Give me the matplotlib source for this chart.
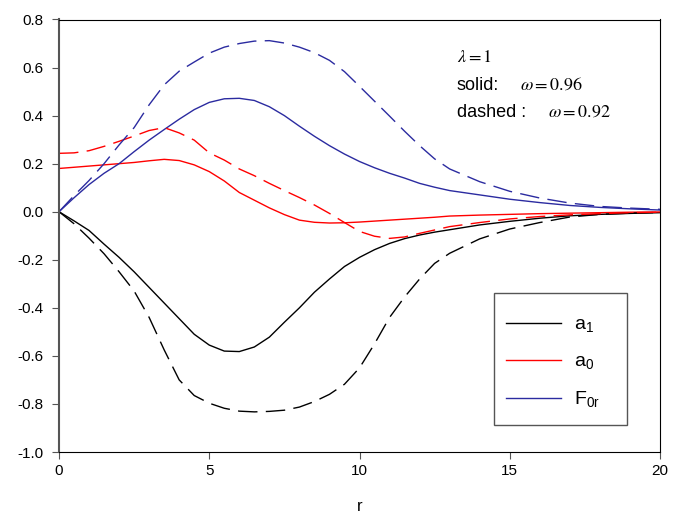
import matplotlib
matplotlib.use("Agg")
import matplotlib.pyplot as plt
from matplotlib.patches import Rectangle

plt.rcParams['font.family'] = ['Liberation Sans', 'DejaVu Sans']

# readings (r, value)
r_vals = [0, 0.5, 1, 1.5, 2, 2.5, 3, 3.5, 4, 4.5, 5, 5.5, 6, 6.5, 7, 7.5, 8, 8.5, 9,
          9.5, 10, 10.5, 11, 11.5, 12, 12.5, 13, 14, 15, 16, 17, 18, 19, 20]

a1_solid = [0, -0.038, -0.078, -0.135, -0.19, -0.25, -0.315, -0.38, -0.445, -0.51, -0.555,
            -0.58, -0.582, -0.563, -0.522, -0.46, -0.40, -0.335, -0.28, -0.228, -0.19,
            -0.158, -0.132, -0.112, -0.097, -0.085, -0.075,
            -0.055, -0.04, -0.027, -0.017, -0.011, -0.007, -0.004]
a1_dash = [0, -0.05, -0.11, -0.175, -0.25, -0.33, -0.44, -0.575, -0.70, -0.765, -0.797,
           -0.818, -0.83, -0.833, -0.831, -0.826, -0.813, -0.79, -0.76, -0.718, -0.65,
           -0.55, -0.44, -0.355, -0.28, -0.215, -0.173,
           -0.113, -0.072, -0.045, -0.022, -0.011, -0.006, -0.003]
a0_solid = [0.18, 0.185, 0.19, 0.195, 0.2, 0.205, 0.212, 0.218, 0.213, 0.195, 0.167,
            0.128, 0.08, 0.048, 0.016, -0.012, -0.035, -0.044, -0.047, -0.046, -0.043,
            -0.039, -0.035, -0.031, -0.027, -0.023, -0.018,
            -0.014, -0.011, -0.008, -0.006, -0.004, -0.002, -0.001]
a0_dash = [0.243, 0.245, 0.254, 0.272, 0.293, 0.315, 0.338, 0.35, 0.328, 0.298, 0.245,
           0.215, 0.178, 0.15, 0.118, 0.088, 0.059, 0.028, -0.007, -0.045, -0.082,
           -0.102, -0.111, -0.105, -0.09, -0.076, -0.062,
           -0.045, -0.03, -0.02, -0.013, -0.008, -0.004, -0.002]
f0r_solid = [0, 0.058, 0.113, 0.16, 0.2, 0.25, 0.298, 0.342, 0.385, 0.425, 0.455,
             0.47, 0.472, 0.463, 0.437, 0.40, 0.356, 0.314, 0.275, 0.24, 0.209,
             0.183, 0.16, 0.14, 0.118, 0.102, 0.088,
             0.07, 0.052, 0.038, 0.026, 0.018, 0.012, 0.007]
f0r_dash = [0, 0.067, 0.13, 0.2, 0.278, 0.35, 0.445, 0.528, 0.585, 0.623, 0.66,
            0.685, 0.70, 0.71, 0.712, 0.702, 0.685, 0.662, 0.63, 0.583, 0.522,
            0.46, 0.398, 0.335, 0.275, 0.22, 0.178,
            0.125, 0.085, 0.057, 0.036, 0.022, 0.015, 0.01]

labels = [r'a$_\mathregular{1}$', r'a$_\mathregular{0}$', r'F$_\mathregular{0r}$']
colors = ['black', '#ff0000', '#2b2ba0']

fig = plt.figure(figsize=(6.92, 5.19), dpi=100)
ax = fig.add_axes([59/692, 1-452/519, 601/692, 432.5/519])

solids = [a1_solid, a0_solid, f0r_solid]
dashes = [a1_dash, a0_dash, f0r_dash]
for ys, c, lab in zip(solids, colors, labels):
    ax.plot(r_vals, ys, color=c, lw=1.0, label=lab)
for ys, c in zip(dashes, colors):
    ax.plot(r_vals, ys, color=c, lw=1.0, dashes=(14, 6))

ax.set_xlim(0, 20)
ax.set_ylim(-1.0, 0.8)
ax.set_xticks([0, 5, 10, 15, 20])
ax.set_yticks([-1.0, -0.8, -0.6, -0.4, -0.2, 0.0, 0.2, 0.4, 0.6, 0.8])
ax.set_yticklabels(['%.1f' % v for v in ax.get_yticks()])
ax.tick_params(direction='out', length=5, labelsize=11, color='#555555')
ax.tick_params(axis='y', pad=6)
ax.spines['left'].set_color('#555555')
ax.spines['left'].set_linewidth(1.5)
ax.set_xlabel('r', fontsize=12, labelpad=15)

# legend box drawn separately, entries placed inside it
ax.add_patch(Rectangle((0.724, 0.0624), 0.221, 0.3046, transform=ax.transAxes,
                       fill=True, facecolor='white', edgecolor='#555555', lw=1.0,
                       zorder=4))
leg = ax.legend(loc='upper left', bbox_to_anchor=(0.744, 0.314), fontsize=14,
                handlelength=2.8, labelspacing=0.93, borderpad=0,
                handletextpad=0.67, frameon=False, borderaxespad=0)
leg.set_zorder(5)

ax.text(0.662, 0.902, r'$\lambda = 1$', transform=ax.transAxes, fontsize=13,
        math_fontfamily='stix')
ax.text(0.662, 0.837, 'solid:', transform=ax.transAxes, fontsize=13)
ax.text(0.767, 0.837, r'$\omega = 0.96$', transform=ax.transAxes, fontsize=13,
        math_fontfamily='stix')
ax.text(0.662, 0.775, 'dashed :', transform=ax.transAxes, fontsize=13)
ax.text(0.814, 0.775, r'$\omega = 0.92$', transform=ax.transAxes, fontsize=13,
        math_fontfamily='stix')

fig.savefig('out.png', dpi=100)
